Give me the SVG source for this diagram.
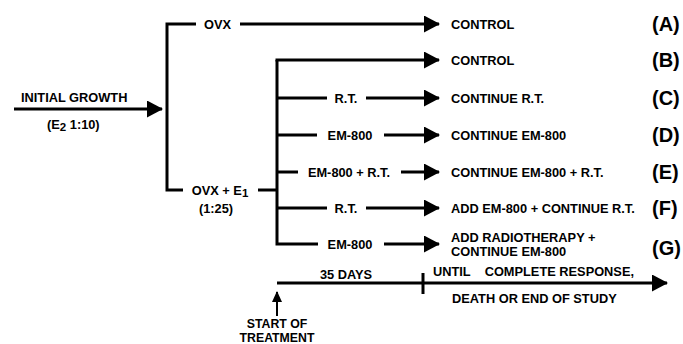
<svg xmlns="http://www.w3.org/2000/svg" width="683" height="344" viewBox="0 0 683 344">
<defs>
<marker id="ah" markerUnits="userSpaceOnUse" markerWidth="16" markerHeight="18" refX="15" refY="8.5" orient="auto">
<path d="M0,0 L16,8.5 L0,17 Z" fill="#000"/>
</marker>
<marker id="ahs" markerUnits="userSpaceOnUse" markerWidth="11" markerHeight="11" refX="10" refY="5" orient="auto">
<path d="M0,0 L11,5 L0,10 Z" fill="#000"/>
</marker>
<style>
.ln{stroke:#000;stroke-width:3;fill:none}
.t{font-family:"Liberation Sans",Arial,sans-serif;font-weight:bold;font-size:12.8px;fill:#000}
.s{font-size:12.3px}
.m{text-anchor:middle}
.big{font-family:"Liberation Sans",Arial,sans-serif;font-weight:bold;font-size:20px;fill:#000}
</style>
</defs>
<rect width="683" height="344" fill="#fff"/>
<g id="connectors">
<line class="ln" x1="14" y1="109" x2="162" y2="109" marker-end="url(#ah)"/>
<polyline class="ln" points="196,24 167,24 167,190 183,190"/>
<line class="ln" x1="240" y1="24" x2="439" y2="24" marker-end="url(#ah)"/>
<line class="ln" x1="258" y1="190" x2="277" y2="190"/>
<polyline class="ln" points="318,244 277,244 277,60"/>
<line class="ln" x1="275.5" y1="60" x2="439" y2="60" marker-end="url(#ah)"/>
<line class="ln" x1="277" y1="98" x2="327" y2="98"/>
<line class="ln" x1="366" y1="98" x2="439" y2="98" marker-end="url(#ah)"/>
<line class="ln" x1="277" y1="135" x2="317" y2="135"/>
<line class="ln" x1="384" y1="135" x2="439" y2="135" marker-end="url(#ah)"/>
<line class="ln" x1="277" y1="172" x2="298" y2="172"/>
<line class="ln" x1="401" y1="172" x2="439" y2="172" marker-end="url(#ah)"/>
<line class="ln" x1="277" y1="208" x2="327" y2="208"/>
<line class="ln" x1="366" y1="208" x2="439" y2="208" marker-end="url(#ah)"/>
<line class="ln" x1="384" y1="244" x2="439" y2="244" marker-end="url(#ah)"/>
<line class="ln" x1="277" y1="283" x2="667" y2="283" marker-end="url(#ah)"/>
<line class="ln" x1="423" y1="273" x2="423" y2="294"/>
<line stroke="#000" stroke-width="2" x1="277" y1="316" x2="277" y2="292" marker-end="url(#ahs)"/>
</g>
<g id="initial">
<text class="t" x="21" y="102">INITIAL GROWTH</text>
<text class="t" x="47" y="129">(E<tspan font-size="11.5" dy="2">2</tspan><tspan dy="-2"> 1:10)</tspan></text>
</g>
<g id="ovx"><text class="t" x="204" y="29">OVX</text></g>
<g id="ovxe1">
<text class="t m" x="220" y="195">OVX + E<tspan font-size="11.5" dy="2">1</tspan></text>
<text class="t m" x="216" y="213">(1:25)</text>
</g>
<g id="rowC"><text class="t m" x="346" y="103">R.T.</text></g>
<g id="rowD"><text class="t m" x="350" y="140">EM-800</text></g>
<g id="rowE"><text class="t m" x="349" y="177">EM-800 + R.T.</text></g>
<g id="rowF"><text class="t m" x="346" y="213">R.T.</text></g>
<g id="rowG"><text class="t m" x="350" y="249">EM-800</text></g>
<g id="outA"><text class="t" x="451" y="29">CONTROL</text><text class="big" x="652" y="31">(A)</text></g>
<g id="outB"><text class="t" x="451" y="65">CONTROL</text><text class="big" x="652" y="67">(B)</text></g>
<g id="outC"><text class="t" x="451" y="103">CONTINUE R.T.</text><text class="big" x="652" y="105">(C)</text></g>
<g id="outD"><text class="t" x="451" y="140">CONTINUE EM-800</text><text class="big" x="652" y="142">(D)</text></g>
<g id="outE"><text class="t" x="451" y="177">CONTINUE EM-800 + R.T.</text><text class="big" x="652" y="179">(E)</text></g>
<g id="outF"><text class="t" x="451" y="213">ADD EM-800 + CONTINUE R.T.</text><text class="big" x="652" y="215">(F)</text></g>
<g id="outG"><text class="t" x="451" y="242">ADD RADIOTHERAPY +</text><text class="t" x="451" y="256">CONTINUE EM-800</text><text class="big" x="652" y="255">(G)</text></g>
<g id="timeline">
<text class="t m" x="346" y="279">35 DAYS</text>
<text class="t" x="433" y="276" xml:space="preserve">UNTIL    COMPLETE RESPONSE,</text>
<text class="t" x="452" y="303">DEATH OR END OF STUDY</text>
</g>
<g id="start">
<text class="t s m" x="277" y="328">START OF</text>
<text class="t s m" x="277" y="342">TREATMENT</text>
</g>
</svg>
